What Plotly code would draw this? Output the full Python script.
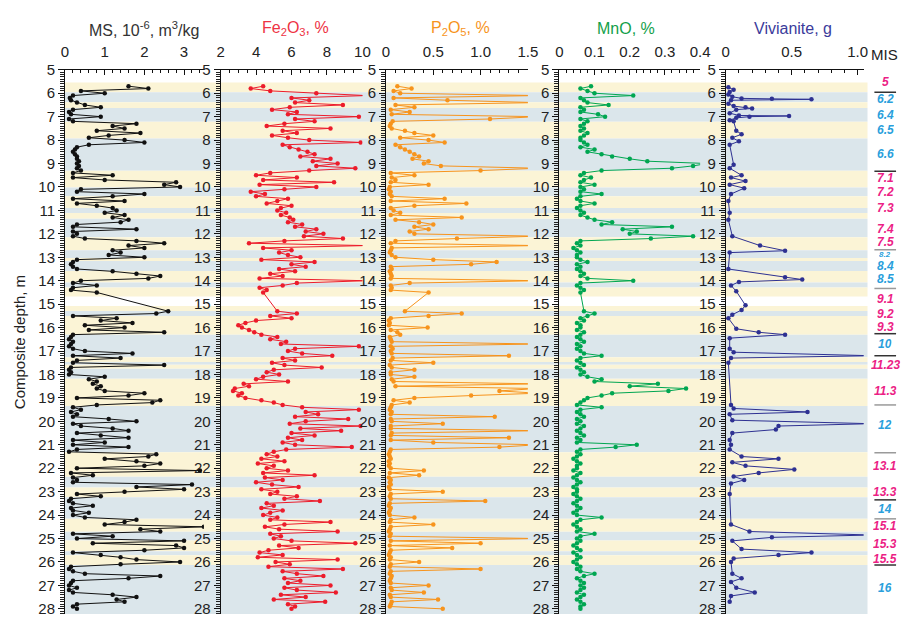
import plotly.graph_objects as go

# Sample depths (m): 10-cm spacing, core gap between 14.5 and 15.3 m
depth = ([round(5.7 + 0.1 * i, 1) for i in range(89)]
         + [round(15.3 + 0.1 * i, 1) for i in range(128)])

# Magnetic susceptibility, 10^-6 m3/kg
ms = [
    1.6, 2.1, 0.4,
    1.0, 0.2, 0.12, 0.15, 0.3, 0.5, 0.9, 0.2, 0.1, 0.15,
    0.9, 0.1, 0.2, 1.8, 1.2, 1.5, 0.8, 1.9, 1.1, 0.6,
    1.5, 2.0, 0.6, 0.3, 0.25, 0.2, 0.25, 0.3, 0.3, 0.35,
    0.3, 0.35, 0.3, 0.4, 0.2, 1.2, 0.2, 1.0, 2.8, 2.5,
    2.9, 0.4, 0.3, 2.0, 1.2, 0.2, 1.5, 0.3, 0.8, 1.2,
    1.3, 1.0, 1.5, 1.2, 1.6, 1.4, 0.3, 0.2, 1.8, 0.2,
    0.3, 0.2, 0.5, 1.8, 2.5, 1.6, 2.0, 1.2, 1.4, 1.1,
    2.0, 0.3, 0.2, 0.15, 0.2, 0.3, 1.2, 1.8, 2.4, 2.1,
    0.4, 0.2, 0.8, 0.2, 0.15, 0.8,
    2.6, 2.3, 0.2, 1.3, 0.9, 1.7, 0.5,
    1.5, 0.6, 2.5, 0.2, 0.15, 0.1, 0.2, 0.15, 0.1, 0.2,
    0.5, 1.7, 0.2, 1.4, 0.3, 0.2, 2.5, 0.15, 0.1, 0.15,
    0.1, 1.0, 0.6, 0.8, 0.7, 0.9, 0.8, 1.0, 2.0, 1.6,
    0.3, 2.4, 2.2, 0.8, 0.2, 0.4, 0.15, 0.3, 0.2, 1.1,
    1.8, 0.2, 0.4, 1.2, 1.6, 0.3, 0.9, 1.6, 0.2, 1.0,
    0.2, 1.6, 0.3, 0.1, 2.3, 2.1, 1.0, 1.8, 2.4, 2.0,
    0.3, 3.4, 0.15, 0.7, 0.2, 0.3, 0.2, 3.2, 1.8, 3.0,
    1.5, 0.3, 0.9, 0.15, 0.1, 0.2, 0.7, 0.15, 0.2, 0.6,
    0.2, 0.5, 1.8, 1.5, 1.0, 3.5, 1.9, 2.4, 0.2, 1.2,
    0.3, 3.0, 0.7, 2.8, 3.0, 2.0, 0.2, 0.9, 1.4, 1.8,
    2.9, 1.4, 0.15, 0.1, 0.2, 0.5, 2.4, 1.6, 0.2, 0.15,
    0.1, 0.3, 0.1, 0.2, 1.2, 1.8, 1.3, 1.5, 0.3, 0.2,
    0.3,
]

# Fe2O3, %
fe2o3 = [
    4.4, 3.7, 4.8,
    7.4, 10.2, 6.0, 7.0, 6.2, 8.9, 5.9, 4.9, 6.3, 5.8,
    9.8, 6.2, 7.3, 5.6, 4.6, 8.2, 5.5, 6.3, 4.9, 5.8,
    7.0, 9.9, 5.5, 5.9, 6.4, 6.9, 7.3, 6.5, 8.2, 7.2,
    8.6, 7.4, 9.6, 7.0, 4.8, 4.0, 6.3, 4.4, 8.4, 4.2,
    7.4, 5.6, 3.7, 4.5, 4.0, 5.8, 5.2, 4.6, 6.0, 5.4,
    5.2, 5.7, 5.4, 5.9, 6.1, 5.8, 6.6, 6.2, 7.4, 6.8,
    7.8, 6.7, 8.9, 5.6, 3.6, 10.2, 4.4, 6.0, 5.3, 5.8,
    6.5, 4.3, 7.3, 6.0, 6.8, 5.3, 6.2, 4.8, 5.5, 4.2,
    10.2, 6.3, 5.5, 4.2, 4.6, 4.4,
    5.2, 6.3, 4.8, 6.0, 4.0, 3.4, 3.0,
    3.2, 3.6, 3.9, 4.3, 5.2, 4.8, 5.7, 5.4, 9.8, 6.2,
    5.8, 6.6, 8.3, 5.5, 6.2, 4.9, 5.6, 7.7, 5.0, 4.6,
    5.3, 4.4, 4.0, 5.8, 3.3, 3.6, 2.8, 2.7, 3.2, 3.0,
    3.4, 4.3, 5.0, 5.5, 6.6, 9.8, 6.8, 7.5, 6.2, 9.2,
    6.8, 5.9, 9.9, 6.5, 8.8, 6.0, 7.3, 5.8, 6.6, 5.5,
    6.2, 9.4, 5.7, 5.0, 4.6, 5.2, 4.3, 5.6, 4.1, 5.0,
    4.6, 5.8, 4.4, 7.3, 4.5, 5.5, 4.0, 4.9, 6.4, 4.3,
    5.2, 4.8, 6.3, 5.6, 7.6, 4.6, 5.0, 4.3, 5.5, 4.8,
    4.4, 5.2, 4.8, 8.2, 5.6, 4.5, 5.3, 8.6, 4.8, 5.4,
    5.0, 6.0, 9.6, 5.3, 6.4, 4.7, 4.2, 5.5, 4.1, 8.6,
    5.1, 5.9, 4.7, 8.9, 5.5, 6.3, 7.8, 5.6, 6.5, 5.8,
    8.2, 5.6, 6.3, 8.5, 5.4, 6.8, 5.0, 7.9, 5.8, 6.2,
    6.0,
]

# P2O5, %
p2o5 = [
    0.12, 0.27, 0.08,
    0.15, 1.6, 0.08, 0.65, 1.6, 0.1, 0.3, 0.05, 0.25, 0.06,
    1.6, 1.1, 0.07, 0.05, 0.04, 0.06, 0.2, 0.3, 0.5, 0.15,
    0.45, 0.62, 0.1, 0.15, 0.2, 0.25, 0.3, 0.35, 0.28, 0.45,
    0.4, 0.58, 1.6, 1.0, 0.05, 0.3, 0.06, 0.1, 0.05, 0.45,
    0.04, 0.03, 0.05, 0.04, 0.06, 0.62, 0.05, 0.85, 0.3, 0.05,
    0.08, 0.15, 0.05, 0.8, 0.1, 0.35, 0.5, 0.3, 0.45, 0.25,
    0.3, 1.6, 0.75, 0.1, 0.05, 1.6, 0.06, 0.05, 0.04, 0.06,
    0.1, 0.5, 1.17, 0.9, 0.05, 0.06, 0.04, 0.05, 0.06, 0.05,
    1.6, 0.25, 0.05, 0.06, 0.05, 0.45,
    0.2, 0.8, 0.45, 0.05, 0.03, 0.04, 0.03,
    0.44, 0.05, 0.12, 0.15, 0.04, 0.05, 0.06, 1.6, 0.05, 0.07,
    0.05, 0.06, 1.3, 0.07, 0.05, 0.5, 0.04, 0.06, 0.3, 0.05,
    0.05, 0.3, 0.06, 0.08, 1.6, 0.1, 1.6, 1.2, 1.6, 0.9,
    0.3, 0.08, 0.25, 0.06, 0.05, 0.04, 0.06, 0.05, 1.15, 0.05,
    0.06, 0.6, 0.05, 0.05, 1.6, 0.06, 0.05, 1.3, 0.05, 0.5,
    1.6, 1.2, 0.05, 0.04, 0.03, 0.04, 0.05, 0.03, 0.04, 0.03,
    0.05, 0.4, 0.04, 0.35, 0.03, 0.05, 0.04, 0.05, 0.03, 0.04,
    0.6, 0.05, 0.04, 0.05, 1.05, 0.04, 0.03, 0.05, 0.04, 0.03,
    0.04, 0.3, 0.05, 0.04, 0.5, 0.05, 0.04, 0.03, 0.05, 0.04,
    1.6, 0.05, 1.0, 0.04, 0.7, 0.05, 0.04, 0.03, 0.05, 0.04,
    0.35, 0.05, 0.04, 1.0, 0.05, 0.04, 0.06, 0.05, 0.04, 0.05,
    0.45, 0.05, 0.06, 0.4, 0.04, 0.05, 0.55, 0.06, 0.05, 0.04,
    0.6,
]

# MnO, %
mno = [
    0.09, 0.06, 0.08,
    0.1, 0.21, 0.06, 0.07, 0.08, 0.14, 0.06, 0.07, 0.06, 0.11,
    0.13, 0.06, 0.08, 0.07, 0.06, 0.07, 0.06, 0.08, 0.07, 0.06,
    0.06, 0.07, 0.08, 0.06, 0.1, 0.08, 0.12, 0.15, 0.2, 0.25,
    0.42, 0.38, 0.32, 0.12, 0.07, 0.06, 0.09, 0.07, 0.06, 0.1,
    0.06, 0.07, 0.06, 0.12, 0.06, 0.05, 0.06, 0.1, 0.06, 0.05,
    0.06, 0.07, 0.06, 0.08, 0.1, 0.15, 0.12, 0.32, 0.18, 0.22,
    0.2, 0.38, 0.26, 0.06, 0.05, 0.06, 0.04, 0.05, 0.06, 0.05,
    0.05, 0.06, 0.08, 0.05, 0.06, 0.05, 0.06, 0.07, 0.06, 0.08,
    0.21, 0.06, 0.05, 0.06, 0.07, 0.06,
    0.07, 0.1, 0.08, 0.06, 0.07, 0.05, 0.06,
    0.06, 0.05, 0.07, 0.06, 0.05, 0.06, 0.07, 0.05, 0.06, 0.05,
    0.06, 0.07, 0.12, 0.06, 0.05, 0.06, 0.07, 0.05, 0.06, 0.07,
    0.06, 0.08, 0.12, 0.1, 0.28, 0.2, 0.36, 0.31, 0.15, 0.12,
    0.08, 0.07, 0.06, 0.05, 0.12, 0.06, 0.05, 0.06, 0.07, 0.05,
    0.06, 0.05, 0.07, 0.06, 0.05, 0.06, 0.07, 0.05, 0.06, 0.05,
    0.22, 0.16, 0.06, 0.05, 0.06, 0.05, 0.04, 0.05, 0.06, 0.05,
    0.05, 0.04, 0.06, 0.05, 0.04, 0.05, 0.06, 0.05, 0.04, 0.05,
    0.05, 0.04, 0.05, 0.06, 0.05, 0.04, 0.05, 0.06, 0.05, 0.04,
    0.05, 0.12, 0.06, 0.05, 0.04, 0.05, 0.06, 0.05, 0.1, 0.06,
    0.05, 0.06, 0.05, 0.04, 0.05, 0.06, 0.04, 0.05, 0.06, 0.05,
    0.04, 0.05, 0.06, 0.05, 0.06, 0.1, 0.07, 0.05, 0.06, 0.07,
    0.06, 0.07, 0.06, 0.05, 0.07, 0.06, 0.05, 0.06, 0.07, 0.06,
    0.06,
]

# Vivianite, g (measured at irregular depths)
viv_depth = [
    5.75, 5.85, 5.95, 6.05, 6.15, 6.22, 6.24, 6.26, 6.3, 6.45, 6.55, 6.6,
    6.65, 6.7, 6.85, 6.95, 6.97, 7.0, 7.05, 7.15, 7.2, 7.6, 7.75, 7.9,
    8.05, 8.2, 9.05, 9.2, 9.5, 9.6, 9.75, 9.9, 10.05, 10.3, 10.6, 11.1,
    11.4, 12.1, 12.5, 12.72, 12.8, 13.5, 13.85, 13.95, 14.05, 14.2, 14.45,
    15.05, 15.25, 15.45, 15.6, 16.05, 16.2, 16.3, 16.45, 16.9, 17.05, 17.2,
    17.3, 17.5, 19.3, 19.45, 19.6, 19.7, 19.95, 20.1, 20.2, 20.35, 20.5,
    20.8, 21.0, 21.2, 21.5, 21.6, 21.75, 21.9, 22.05, 22.2, 22.35, 22.5,
    22.65, 23.1, 24.4, 24.7, 24.85, 24.95, 25.1, 25.45, 25.6, 25.7, 25.85,
    26.0, 26.5, 26.7, 26.85, 27.1, 27.3, 27.45, 27.7,
]
vivianite = [
    0.02, 0.06, 0.03, 0.02, 0.05, 0.12, 0.35, 0.65, 0.04, 0.02, 0.06, 0.15,
    0.2, 0.08, 0.03, 0.1, 0.48, 0.18, 0.08, 0.03, 0.06, 0.08, 0.12, 0.05,
    0.1, 0.03, 0.06, 0.03, 0.12, 0.04, 0.15, 0.03, 0.14, 0.04, 0.02, 0.03,
    0.02, 0.05, 0.26, 0.45, 0.03, 0.02, 0.45, 0.58, 0.1, 0.04, 0.08,
    0.15, 0.12, 0.05, 0.02, 0.08, 0.25, 0.45, 0.03, 0.03, 0.06, 1.1,
    0.04, 0.02, 0.04, 0.06, 0.62, 0.03, 0.05, 1.1, 0.4, 0.38, 0.05,
    0.03, 0.04, 0.03, 0.12, 0.4, 0.05, 0.15, 0.52, 0.25, 0.06, 0.14,
    0.04, 0.03, 0.04, 0.18, 1.1, 0.35, 0.05, 0.12, 0.65, 0.4, 0.06,
    0.04, 0.05, 0.12, 0.04, 0.08, 0.22, 0.04, 0.03,
]

assert len(ms) == len(fe2o3) == len(p2o5) == len(mno) == len(depth)
assert len(viv_depth) == len(vivianite)

# Axis ticks
depth_ticks = list(range(5, 29))
ms_ticks = [0, 1, 2, 3]
fe_ticks = [2, 4, 6, 8, 10]
p_ticks = [0, 0.5, 1.0, 1.5]
p_ticktext = ["0", "0.5", "1.0", "1.5"]
mn_ticks = [0, 0.1, 0.2, 0.3, 0.4]
mn_ticktext = ["0", "0.1", "0.2", "0.3", "0.4"]
viv_ticks = [0, 0.5, 1.0]
viv_ticktext = ["0", "0.5", "1.0"]

# Marine isotope stage intervals (top, bottom, warm/cold)
band_top = [5.54, 5.96, 6.38, 6.63, 7.22, 7.93, 9.31, 10.02, 10.40, 10.90,
            11.11, 11.36, 12.15, 12.70, 13.03, 13.16, 13.58, 14.08, 14.29,
            15.08, 15.29, 15.50, 16.30, 17.26, 17.47, 17.59, 17.76, 18.18,
            19.35, 21.32, 22.36, 22.82, 23.24, 24.16, 24.71, 25.08, 25.54,
            25.71, 26.13]
band_bottom = [5.96, 6.38, 6.63, 7.22, 7.93, 9.31, 10.02, 10.40, 10.90, 11.11,
               11.36, 12.15, 12.70, 13.03, 13.16, 13.58, 14.08, 14.29, 14.67,
               15.29, 15.50, 16.30, 17.26, 17.47, 17.59, 17.76, 18.18, 19.35,
               21.32, 22.36, 22.82, 23.24, 24.16, 24.71, 25.08, 25.54, 25.71,
               26.13, 28.6]
band_warm = [1, 0, 1, 0, 1, 0, 1, 0, 1, 0,
             1, 0, 1, 0, 1, 0, 1, 0, 1,
             1, 0, 1, 0, 1, 0, 1, 0, 1,
             0, 1, 0, 1, 0, 1, 0, 1, 0,
             1, 0]

# MIS labels
mis_depth = [5.5, 6.25, 6.93, 7.55, 8.6, 9.62, 10.2, 10.9, 11.78, 12.36,
             12.86, 13.38, 13.92, 14.78, 15.4, 15.96, 16.7, 17.6, 18.72,
             20.15, 21.9, 23.0, 23.74, 24.46, 25.22, 25.88, 27.13]
mis_label = ["5", "6.2", "6.4", "6.5", "6.6", "7.1", "7.2", "7.3", "7.4", "7.5",
             "8.2", "8.4", "8.5", "9.1", "9.2", "9.3", "10", "11.23", "11.3",
             "12", "13.1", "13.3", "14", "15.1", "15.3", "15.5", "16"]
mis_sep_depth = [5.96, 9.33, 12.68, 14.33, 16.26, 17.2, 19.3, 21.34, 23.35,
                 24.16, 26.13]
mis_sep_dark = [1, 1, 0, 0, 1, 1, 0, 0, 1, 0, 1]

W, H = 910, 617
FONT = "Arial, Liberation Sans, sans-serif"
WARM, COLD = "#fbf4d6", "#dbe6eb"
PINK, BLUE = "#ec1f86", "#2a9fdc"
top_frac = 1 - 62 / H
y_range = [28.22, 5.0]

panels = [
    dict(x=ms, y=depth, dom=(62, 203), rng=(0, 3.5), tv=ms_ticks,
         tt=[str(t) for t in ms_ticks], minor=0.2, color="#111111",
         title="MS, 10<sup>-6</sup>, m<sup>3</sup>/kg", tcolor="#333333", tx=142),
    dict(x=fe2o3, y=depth, dom=(220, 364), rng=(2, 10), tv=fe_ticks,
         tt=[str(t) for t in fe_ticks], minor=0.5, color="#ec1c2b",
         title="Fe<sub>2</sub>O<sub>3</sub>, %", tcolor="#ee3344", tx=296),
    dict(x=p2o5, y=depth, dom=(388, 532), rng=(0, 1.5), tv=p_ticks,
         tt=p_ticktext, minor=0.1, color="#f7941d",
         title="P<sub>2</sub>O<sub>5</sub>, %", tcolor="#f7941d", tx=464),
    dict(x=mno, y=depth, dom=(564, 707), rng=(0, 0.4), tv=mn_ticks,
         tt=mn_ticktext, minor=0.02, color="#00a651",
         title="MnO, %", tcolor="#12a04a", tx=632),
    dict(x=vivianite, y=viv_depth, dom=(733, 873), rng=(0, 1.045), tv=viv_ticks,
         tt=viv_ticktext, minor=0.1, color="#2e3192",
         title="Vivianite, g", tcolor="#3b3b9b", tx=801),
]

fig = go.Figure()
annotations = []
layout_axes = {}

for i, p in enumerate(panels, start=1):
    xa = "x" if i == 1 else f"x{i}"
    ya = "y" if i == 1 else f"y{i}"
    fig.add_trace(go.Scatter(
        x=p["x"], y=p["y"], xaxis=xa, yaxis=ya, mode="lines+markers",
        line=dict(color=p["color"], width=1),
        marker=dict(color=p["color"], size=4.5),
        showlegend=False, hoverinfo="skip", cliponaxis=True,
    ))
    xkey = "xaxis" if i == 1 else f"xaxis{i}"
    ykey = "yaxis" if i == 1 else f"yaxis{i}"
    layout_axes[xkey] = dict(
        domain=[p["dom"][0] / W, p["dom"][1] / W], range=list(p["rng"]),
        anchor=ya, side="top", showline=True, linecolor="#111111", linewidth=1,
        showgrid=False, zeroline=False, ticks="inside", ticklen=5,
        tickcolor="#111111", tickvals=p["tv"], ticktext=p["tt"],
        tickfont=dict(family=FONT, size=15, color="#222222"),
        ticklabelstandoff=6, ticklabeloverflow="allow",
        minor=dict(dtick=p["minor"], ticks="inside", ticklen=3,
                   tickcolor="#111111", showgrid=False),
        fixedrange=True,
    )
    layout_axes[ykey] = dict(
        domain=[0, top_frac], range=y_range, anchor=xa,
        showline=True, linecolor="#111111", linewidth=1,
        showgrid=False, zeroline=False, ticks="outside", ticklen=6,
        tickcolor="#111111", tickvals=depth_ticks,
        tickfont=dict(family=FONT, size=15, color="#222222"),
        ticklabeloverflow="allow",
        minor=dict(dtick=0.1, ticks="outside", ticklen=4,
                   tickcolor="#222222", showgrid=False),
        fixedrange=True,
    )
    if i > 1:
        layout_axes[ykey]["matches"] = "y"
    annotations.append(dict(
        text=p["title"], x=p["tx"] / W, y=1 - 20 / H, xref="paper", yref="paper",
        showarrow=False, xanchor="center", yanchor="middle",
        font=dict(family=FONT, size=16, color=p["tcolor"]),
    ))

# Stage bands behind all panels
shapes = []
for t, b, w in zip(band_top, band_bottom, band_warm):
    shapes.append(dict(
        type="rect", xref="paper", yref="y", x0=62 / W, x1=877 / W, y0=t, y1=b,
        fillcolor=WARM if w else COLD, line=dict(width=0), layer="below",
    ))

# MIS column
for d, dark in zip(mis_sep_depth, mis_sep_dark):
    shapes.append(dict(
        type="line", xref="paper", yref="y", x0=884 / W, x1=906 / W, y0=d, y1=d,
        line=dict(color="#333333" if dark else "#9a9a9a", width=1.5),
    ))

for d, lab in zip(mis_depth, mis_label):
    major = lab.split(".")[0]
    warm = int(major) % 2 == 1
    small = lab == "8.2"
    annotations.append(dict(
        text=f"<b><i>{lab}</i></b>", x=895 / W, y=d, xref="paper", yref="y",
        showarrow=False, xanchor="center", yanchor="middle", borderpad=0,
        height=7 if small else 10, valign="middle",
        font=dict(family=FONT, size=8 if small else 12,
                  color=PINK if warm else BLUE),
    ))

annotations.append(dict(
    text="MIS", x=894 / W, y=1 - 46 / H, xref="paper", yref="paper",
    showarrow=False, xanchor="center", yanchor="middle",
    font=dict(family=FONT, size=15, color="#222222"),
))
annotations.append(dict(
    text="Composite depth, m", x=16 / W, y=1 - 340 / H, xref="paper", yref="paper",
    showarrow=False, textangle=-90, xanchor="center", yanchor="middle",
    font=dict(family=FONT, size=15, color="#222222"),
))

fig.update_layout(
    width=W, height=H, margin=dict(l=0, r=0, t=0, b=0),
    paper_bgcolor="white", plot_bgcolor="rgba(0,0,0,0)",
    showlegend=False, shapes=shapes, annotations=annotations,
    **layout_axes,
)

fig.write_html("out.html")
